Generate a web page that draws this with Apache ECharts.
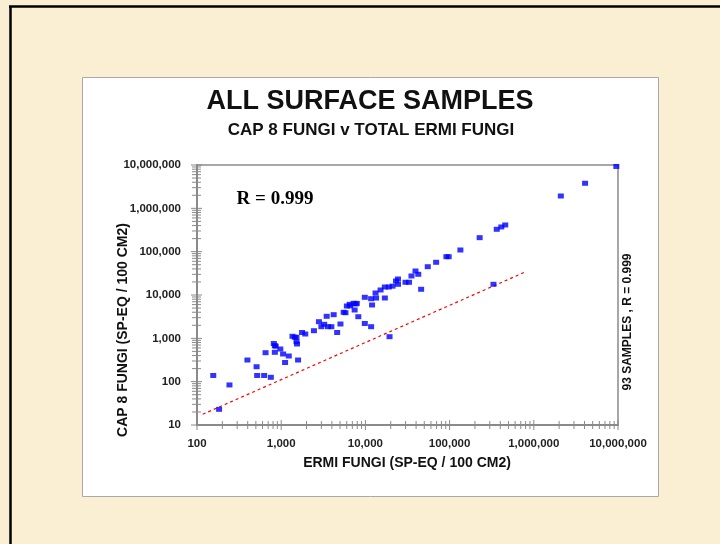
<!DOCTYPE html>
<html>
<head>
<meta charset="utf-8">
<script src="https://cdn.jsdelivr.net/npm/echarts@6/dist/echarts.min.js"></script>
<style>
html,body{margin:0;padding:0;background:#faefd3;}
#c{width:720px;height:544px;}
</style>
</head>
<body>
<div id="c"></div>
<script>
// ---- data ----
const ermiFungi = [156,243,183,397,510,518,627,753,652,817,840,840,976,1053,1112,1230,1586,1361,1518,1518,1542,1769,1931,2448,2805,3000,3243,3470,3595,3945,4200,4620,5055,5520,6025,6500,7250,7650,7450,8240,9840,11690,9840,11690,12000,13200,15140,17020,17020,18980,19350,23100,24400,24400,29950,32950,35250,39350,42450,45920,55050,69200,91600,97500,134300,227500,332000,363000,411000,458000,2094000,4064000,9550000,13400,6600,7900,21000,860,1450,5800];
const cap8Fungi = [139,84,23,316,221,139,139,126,466,760,676,476,567,435,277,391,316,1115,1057,836,740,1364,1259,1500,2421,1857,2108,3225,1857,1857,3514,1364,2142,3990,5570,6105,6440,6205,4508,3157,2200,1857,8850,8220,5880,11130,13060,8530,15300,15300,1091,21050,17660,23400,19650,19650,27480,35800,30060,13550,44980,56880,76560,76560,109300,210400,17660,328500,371500,413000,1928000,3786000,9250000,8500,5600,6400,16000,660,1060,3900];
const refLineX = [117, 805000];
const refLineY = [17.7, 34500];
const xMin = 100, xMax = 10000000;
const yMin = 10, yMax = 10000000;
const minorMultipliers = [1,2,3,4,5,6,7,8,9];

const FONT = 'Liberation Sans, Arial, sans-serif';

function tickList(lo, hi){
  const out = [];
  for (let d = lo; d < hi * 1.0001; d *= 10) {
    for (const m of minorMultipliers) {
      const v = d * m;
      if (v <= hi * 1.0001) out.push([v, m === 1 ? 1 : 0]);
    }
  }
  return out;
}
const xTicks = tickList(xMin, xMax).map(t => [t[0], yMin, t[1]]);
const yTicks = tickList(yMin, yMax).map(t => [xMin, t[0], t[1]]);

const fmt = v => Math.round(v).toLocaleString('en-US');

const chart = echarts.init(document.getElementById('c'));
chart.setOption({
  animation: false,
  backgroundColor: '#faefd3',
  grid: {left: 197, right: 102, top: 165, bottom: 119, show: true, borderColor: '#8a8a8a', borderWidth: 1.5, backgroundColor: 'transparent'},
  xAxis: {
    type: 'log', logBase: 10, min: xMin, max: xMax,
    axisLine: {lineStyle: {color: '#8a8a8a', width: 2}},
    axisTick: {show: false},
    splitLine: {show: false},
    axisLabel: {formatter: fmt, fontFamily: FONT, fontWeight: 'bold', fontSize: 11.5, color: '#222', margin: 13}
  },
  yAxis: {
    type: 'log', logBase: 10, min: yMin, max: yMax,
    axisLine: {lineStyle: {color: '#8a8a8a', width: 2}},
    axisTick: {show: false},
    splitLine: {show: false},
    axisLabel: {formatter: fmt, fontFamily: FONT, fontWeight: 'bold', fontSize: 11.5, color: '#222', margin: 16}
  },
  graphic: [
    {type: 'rect', z: -10, shape: {x: 82.5, y: 77.5, width: 576, height: 419}, style: {fill: '#ffffff', stroke: '#a8a8a8', lineWidth: 1}},
    {type: 'line', z: -5, shape: {x1: 9, y1: 6.5, x2: 720, y2: 6.5}, style: {stroke: '#000', lineWidth: 2.5}},
    {type: 'line', z: -5, shape: {x1: 10.5, y1: 6, x2: 10.5, y2: 544}, style: {stroke: '#000', lineWidth: 2.5}},
    {type: 'text', x: 370, y: 102, style: {text: 'ALL SURFACE SAMPLES', font: 'bold 27px ' + FONT, fill: '#111', align: 'center', verticalAlign: 'middle'}},
    {type: 'text', x: 371, y: 130, style: {text: 'CAP 8 FUNGI v TOTAL ERMI FUNGI', font: 'bold 17px ' + FONT, fill: '#111', align: 'center', verticalAlign: 'middle'}},
    {type: 'text', x: 407, y: 463, style: {text: 'ERMI FUNGI (SP-EQ / 100 CM2)', font: 'bold 14px ' + FONT, fill: '#111', align: 'center', verticalAlign: 'middle'}},
    {type: 'text', x: 123, y: 330, rotation: Math.PI / 2, style: {text: 'CAP 8 FUNGI (SP-EQ / 100 CM2)', font: 'bold 14px ' + FONT, fill: '#111', align: 'center', verticalAlign: 'middle'}},
    {type: 'text', x: 628, y: 322, rotation: Math.PI / 2, style: {text: '93 SAMPLES , R = 0.999', font: 'bold 12px ' + FONT, fill: '#111', align: 'center', verticalAlign: 'middle'}},
    {type: 'text', x: 275, y: 199, style: {text: 'R = 0.999', font: 'bold 19px Liberation Serif, Times New Roman, serif', fill: '#000', align: 'center', verticalAlign: 'middle'}}
  ],
  series: [
    {
      type: 'custom', coordinateSystem: 'cartesian2d', data: xTicks, z: 3, silent: true,
      renderItem: (params, api) => {
        const p = api.coord([api.value(0), api.value(1)]);
        const h = api.value(2) ? 5 : 4;
        return {type: 'line', shape: {x1: p[0], y1: p[1] - h, x2: p[0], y2: p[1] + h}, style: {stroke: '#8a8a8a', lineWidth: 1}};
      }
    },
    {
      type: 'custom', coordinateSystem: 'cartesian2d', data: yTicks, z: 3, silent: true,
      renderItem: (params, api) => {
        const p = api.coord([api.value(0), api.value(1)]);
        const l = api.value(2) ? 6 : 5;
        const r = api.value(2) ? 5 : 4;
        return {type: 'line', shape: {x1: p[0] - l, y1: p[1], x2: p[0] + r, y2: p[1]}, style: {stroke: '#8a8a8a', lineWidth: 1}};
      }
    },
    {
      type: 'line', data: refLineX.map((x, i) => [x, refLineY[i]]), symbol: 'none', z: 4,
      lineStyle: {color: '#ff0000', width: 1.2, type: [3, 3]}
    },
    {
      type: 'scatter', data: ermiFungi.map((x, i) => [x, cap8Fungi[i]]), symbol: 'rect', symbolSize: [6, 5], z: 5,
      itemStyle: {color: '#0000ff'}
    }
  ]
});
</script>
</body>
</html>
